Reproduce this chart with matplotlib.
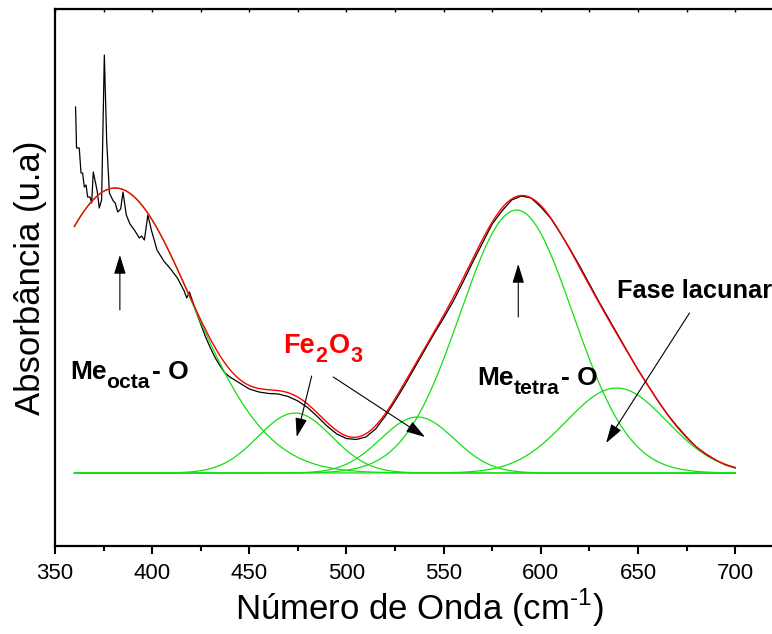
import numpy as np
import matplotlib.pyplot as plt

plt.rcParams['font.family'] = 'Liberation Sans'
plt.rcParams['mathtext.fontset'] = 'custom'
plt.rcParams['mathtext.rm'] = 'Liberation Sans'
plt.rcParams['mathtext.bf'] = 'Liberation Sans:bold'

wn = [360.6, 361.1, 362.5, 363.4, 364.2, 365.1, 366.0, 366.8, 368.0, 368.9,
      369.7, 370.9, 371.8, 372.8, 374.0, 375.4, 376.6, 378.0, 380.0, 381.0,
      382.3, 383.8, 385.0, 386.7, 388.6, 391.2, 393.4, 394.6, 396.0, 397.8,
      399.6, 402.5, 406.0, 409.5, 413.0, 416.5, 417.8, 419.2, 420.4, 422.5,
      425.0, 427.5, 430.0, 432.5, 435.0, 437.5, 440.0, 442.5, 445.0, 450.0,
      455.0, 460.0, 465.0, 470.0, 475.0, 480.0, 485.0, 490.0, 495.0, 500.0,
      505.0, 510.0, 515.0, 520.0, 525.0, 530.0, 535.0, 540.0, 545.0, 550.0,
      555.0, 560.0, 565.0, 570.0, 575.0, 580.0, 585.0, 590.0, 595.0, 600.0,
      605.0, 610.0, 615.0, 620.0, 625.0, 630.0, 635.0, 640.0, 645.0, 650.0,
      655.0, 660.0, 665.0, 670.0, 675.0, 680.0, 685.0, 690.0, 695.0, 700.0]
absb = [3.66, 3.25, 3.25, 3.00, 3.00, 2.86, 2.88, 2.76, 2.76, 2.70,
        3.01, 2.90, 2.81, 2.65, 2.73, 4.18, 3.33, 2.80, 2.72, 2.70,
        2.61, 2.64, 2.81, 2.58, 2.49, 2.42, 2.35, 2.37, 2.33, 2.58,
        2.43, 2.23, 2.12, 2.04, 1.95, 1.82, 1.75, 1.81, 1.74, 1.62,
        1.49, 1.36, 1.25, 1.15, 1.07, 1.00, 0.96, 0.93, 0.90, 0.84,
        0.81, 0.795, 0.79, 0.765, 0.72, 0.655, 0.565, 0.47, 0.39, 0.345,
        0.335, 0.36, 0.44, 0.57, 0.72, 0.88, 1.05, 1.22, 1.39, 1.55,
        1.72, 1.91, 2.11, 2.30, 2.49, 2.62, 2.73, 2.77, 2.75, 2.66,
        2.55, 2.40, 2.24, 2.07, 1.89, 1.71, 1.54, 1.37, 1.20, 1.03,
        0.88, 0.73, 0.59, 0.47, 0.36, 0.26, 0.19, 0.13, 0.08, 0.05]

# gaussian components of the fit: centre, height, sigma
peak_center = [381.0, 473.5, 536.5, 587.5, 639.0]
peak_height = [2.85, 0.60, 0.56, 2.63, 0.85]
peak_sigma = [39.0, 19.0, 19.0, 29.0, 26.0]

x = np.linspace(360, 700, 600)
comps = [h * np.exp(-(x - c) ** 2 / (2 * s ** 2))
         for c, h, s in zip(peak_center, peak_height, peak_sigma)]
fit = np.sum(comps, axis=0)

fig = plt.figure(figsize=(7.72, 6.34), dpi=100)
ax = fig.add_axes([0.0712, 0.1388, 0.944, 0.847])

ax.plot(wn, absb, color='black', lw=0.9)
for c in comps:
    ax.plot(x, c, color='#10e010', lw=0.9)
ax.plot(x, fit, color='red', lw=1.0)

ax.set_xlim(350, 725)
ax.set_ylim(-0.73, 4.64)
ax.set_xticks(np.arange(350, 701, 50))
ax.set_xticks(np.arange(375, 726, 50), minor=True)
ax.set_yticks([])
ax.tick_params(axis='x', which='major', direction='out', length=6, width=1.5,
               labelsize=16, pad=6)
ax.tick_params(axis='x', which='minor', direction='out', length=3.5, width=1.5)
for side in ['left', 'bottom', 'top']:
    ax.spines[side].set_linewidth(1.6)
ax.spines['right'].set_visible(False)

top = ax.secondary_xaxis('top')
top.set_xticks(np.arange(350, 726, 25))
top.tick_params(direction='in', length=2, width=1, labeltop=False)
top.set_xticklabels([])

ax.set_xlabel(r'Número de Onda (cm$^{\text{-1}}$)', fontsize=25, labelpad=2)
ax.set_ylabel('Absorbância (u.a)', fontsize=25, labelpad=6)

renderer = fig.canvas.get_renderer()


def label(x0, y0, parts, size, color='black'):
    # parts: (text, is_subscript); pieces laid out left to right
    dx = 0.0
    for s, sub in parts:
        fs = size * 0.8 if sub else size
        dy = -size * 0.33 if sub else 0.0
        t = ax.annotate(s, (x0, y0), xytext=(dx, dy), textcoords='offset points',
                        fontsize=fs, fontweight='bold', color=color,
                        va='baseline', ha='left')
        bb = t.get_window_extent(renderer)
        dx += bb.width * 72.0 / fig.dpi + (1.5 if sub else 0.0)


label(357.7, 0.94, [('Me', False), ('octa', True), ('- O', False)], 19)
label(467.5, 1.20, [('Fe', False), ('2', True), ('O', False), ('3', True)],
      19.5, color='red')
label(567.2, 0.88, [('Me', False), ('tetra', True), ('- O', False)], 19)
ax.text(639.1, 1.75, 'Fase lacunar', fontsize=18.3, fontweight='bold',
        va='baseline')

arrows = [((383.4, 2.18), (383.4, 1.63)),
          ((588.4, 2.09), (588.4, 1.56)),
          ((474.4, 0.36), (482.1, 0.97)),
          ((540.4, 0.36), (493.2, 0.96)),
          ((633.6, 0.30), (676.5, 1.60))]
for head, tail in arrows:
    ax.annotate('', xy=head, xytext=tail,
                arrowprops=dict(arrowstyle='-|>,head_length=0.65,head_width=0.2',
                                color='black', lw=0.8, mutation_scale=18,
                                shrinkA=0, shrinkB=0))

fig.savefig('out.png', dpi=100)
